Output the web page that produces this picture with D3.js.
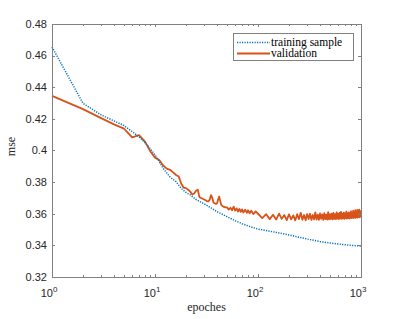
<!DOCTYPE html>
<meta charset="utf-8">
<title>mse vs epoches</title>
<script src="https://d3js.org/d3.v7.min.js"></script>
<style>
  body { margin: 0; background: #fff; }
  svg { font-family: "Liberation Sans", Arial, sans-serif; }
</style>
<div id="chart"></div>
<script>
// training sample curve (smooth)
var trainEpochs = [1, 2, 3, 4, 5, 6, 7, 8, 9, 10, 11, 12, 13, 14, 16, 18, 20, 22, 25, 30, 35, 40, 50, 60, 70, 85, 100, 120, 150, 200, 300, 400, 500, 600, 700, 800, 900, 1000];
var trainMse = [0.4655, 0.4298, 0.4225, 0.4187, 0.4158, 0.4120, 0.4087, 0.4050, 0.4012, 0.3972, 0.3930, 0.3887, 0.3858, 0.3832, 0.3803, 0.3760, 0.3735, 0.3719, 0.3690, 0.3663, 0.3637, 0.3613, 0.3582, 0.3556, 0.3537, 0.3517, 0.3503, 0.3494, 0.3482, 0.3466, 0.3440, 0.3424, 0.3415, 0.3409, 0.3404, 0.3400, 0.3398, 0.3396];

// validation curve (noisy)
var valEpochs = [1, 2, 3, 4, 5, 6, 7, 8, 9, 10, 11, 12, 13, 14, 15, 16, 17, 18, 19, 20, 21, 22, 23, 24, 25, 26, 27, 28, 29, 30, 31, 32, 33, 34, 35, 36, 37, 38, 39, 40, 41, 42, 43, 44, 45, 46, 48, 50, 52, 54, 56, 58, 60, 62, 64, 66, 68, 70, 72, 75, 78, 80, 83, 86, 90, 95,
  100, 110, 120, 130, 140, 150, 160, 170, 180, 190, 200, 210, 220, 230, 240, 250, 260, 270, 280, 290, 300, 310, 320, 330, 340, 350, 360, 370, 380, 390, 400, 410, 420, 430, 440, 450, 460, 470, 480, 490, 500, 510, 520, 530, 540, 550, 560, 570, 580, 590, 600, 610, 620, 630, 640, 650, 660, 670, 680, 690, 700, 710, 720, 730, 740, 750, 760, 770, 780, 790, 800, 810, 820, 830, 840, 850, 860, 870, 880, 890, 900, 910, 920, 930, 940, 950, 960, 970, 980, 990, 1000];
var valMse = [0.4345, 0.4262, 0.4205, 0.4165, 0.4138, 0.4083, 0.4097, 0.4056, 0.3995, 0.3955, 0.3940, 0.3905, 0.3885, 0.3878, 0.3862, 0.3845, 0.3835, 0.3790, 0.3765, 0.3762, 0.3752, 0.3740, 0.3722, 0.3728, 0.3745, 0.3752, 0.3705, 0.3700, 0.3695, 0.3690, 0.3685, 0.3680, 0.3678, 0.3690, 0.3718, 0.3700, 0.3670, 0.3666, 0.3662, 0.3665, 0.3690, 0.3708, 0.3680, 0.3655, 0.3650, 0.3645, 0.3640, 0.3640, 0.3626, 0.3638, 0.3622, 0.3645, 0.3620, 0.3634, 0.3614, 0.3630, 0.3612, 0.3628, 0.3608, 0.3625, 0.3606, 0.3622, 0.3603, 0.3620, 0.3598, 0.3615,
  0.3600, 0.3572, 0.3597, 0.3566, 0.3594, 0.3563, 0.3601, 0.3568, 0.3592, 0.3560, 0.3596, 0.3565, 0.3590, 0.3558, 0.3597, 0.3566, 0.3606, 0.3562, 0.3592, 0.3559, 0.3598, 0.3567, 0.3600, 0.3561, 0.3592, 0.3565, 0.3608, 0.3563, 0.3595, 0.3561, 0.3602, 0.3568, 0.3596, 0.3562, 0.3604, 0.3566, 0.3594, 0.3563, 0.3610, 0.3565, 0.3598, 0.3567, 0.3601, 0.3564, 0.3606, 0.3568, 0.3598, 0.3566, 0.3608, 0.3569, 0.3600, 0.3566, 0.3605, 0.3570, 0.3612, 0.3568, 0.3600, 0.3571, 0.3607, 0.3567, 0.3602, 0.3572, 0.3614, 0.3569, 0.3603, 0.3573, 0.3609, 0.3570, 0.3604, 0.3574, 0.3616, 0.3572, 0.3606, 0.3575, 0.3620, 0.3573, 0.3607, 0.3577, 0.3622, 0.3574, 0.3610, 0.3578, 0.3624, 0.3576, 0.3612, 0.3580, 0.3626, 0.3577, 0.3618, 0.3582, 0.3600];

var yTicks = [0.32, 0.34, 0.36, 0.38, 0.4, 0.42, 0.44, 0.46, 0.48];
var yTickLabels = ["0.32", "0.34", "0.36", "0.38", "0.4", "0.42", "0.44", "0.46", "0.48"];
var xMajor = [1, 10, 100, 1000];
var xExponents = ["0", "1", "2", "3"];
var seriesNames = ["training sample", "validation"];

var W = 399, H = 319;
var margin = {top: 24, right: 38, bottom: 42, left: 52},
    width = W - margin.left - margin.right,
    height = H - margin.top - margin.bottom;

var axisColor = "#808080", textColor = "#262626";
var blue = "#0072BD", orange = "#D95319";

var svg = d3.select("#chart").append("svg")
    .attr("width", W).attr("height", H);

var g = svg.append("g")
    .attr("transform", "translate(" + margin.left + "," + margin.top + ")");

var x = d3.scaleLog().domain([1, 1000]).range([0, width]);
var y = d3.scaleLinear().domain([0.32, 0.48]).range([height, 0]);

// minor ticks for the log axis
var xMinor = [];
[1, 10, 100].forEach(function(d) {
  for (var k = 2; k <= 9; k++) xMinor.push(d * k);
});

// lines
var line = d3.line()
  .x(function(d) { return x(d[0]); })
  .y(function(d) { return y(d[1]); });

var trainData = trainEpochs.map(function(e, i) { return [e, trainMse[i]]; });
var valData = valEpochs.map(function(e, i) { return [e, valMse[i]]; });

g.append("path")
  .datum(valData)
  .attr("d", line)
  .attr("fill", "none")
  .attr("stroke", orange)
  .attr("stroke-width", 1.8)
  .attr("stroke-linejoin", "round");

g.append("path")
  .datum(trainData)
  .attr("d", line)
  .attr("fill", "none")
  .attr("stroke", blue)
  .attr("stroke-width", 1.5)
  .attr("stroke-dasharray", "1.2,1.3");

// box
g.append("rect")
  .attr("x", 0).attr("y", 0)
  .attr("width", width).attr("height", height)
  .attr("fill", "none")
  .attr("stroke", axisColor)
  .attr("stroke-width", 1)
  .attr("shape-rendering", "crispEdges");

// y ticks, both sides, pointing in
yTicks.forEach(function(t, i) {
  var yy = Math.round(y(t)) + 0.5;
  g.append("line").attr("x1", 0).attr("x2", 3).attr("y1", yy).attr("y2", yy)
    .attr("stroke", axisColor);
  g.append("line").attr("x1", width - 3).attr("x2", width).attr("y1", yy).attr("y2", yy)
    .attr("stroke", axisColor);
  g.append("text")
    .attr("x", -5)
    .attr("y", y(t))
    .attr("dy", "0.35em")
    .attr("text-anchor", "end")
    .attr("font-size", "11px")
    .attr("fill", textColor)
    .text(yTickLabels[i]);
});

// x ticks, top and bottom
xMajor.forEach(function(t, i) {
  var xx = Math.round(x(t)) + 0.5;
  g.append("line").attr("x1", xx).attr("x2", xx).attr("y1", height).attr("y2", height - 3)
    .attr("stroke", axisColor);
  g.append("line").attr("x1", xx).attr("x2", xx).attr("y1", 0).attr("y2", 3)
    .attr("stroke", axisColor);
  var lab = g.append("text")
    .attr("x", x(t) - 3)
    .attr("y", height + 20)
    .attr("text-anchor", "middle")
    .attr("font-size", "11px")
    .attr("fill", textColor);
  lab.append("tspan").text("10");
  lab.append("tspan").attr("dy", "-5").attr("font-size", "8px").text(xExponents[i]);
});

xMinor.forEach(function(t) {
  var xx = Math.round(x(t)) + 0.5;
  g.append("line").attr("x1", xx).attr("x2", xx).attr("y1", height).attr("y2", height - 2)
    .attr("stroke", axisColor);
  g.append("line").attr("x1", xx).attr("x2", xx).attr("y1", 0).attr("y2", 2)
    .attr("stroke", axisColor);
});

// axis labels
svg.append("text")
  .attr("x", margin.left + width / 2)
  .attr("y", 311)
  .attr("text-anchor", "middle")
  .attr("font-family", "'Liberation Serif', 'Times New Roman', serif")
  .attr("font-size", "12px")
  .attr("fill", textColor)
  .text("epoches");

svg.append("text")
  .attr("transform", "translate(15," + (margin.top + height / 2 - 4) + ") rotate(-90)")
  .attr("text-anchor", "middle")
  .attr("font-family", "'Liberation Serif', 'Times New Roman', serif")
  .attr("font-size", "12px")
  .attr("fill", textColor)
  .text("mse");

// legend
var leg = svg.append("g").attr("transform", "translate(233,33)");
leg.append("rect")
  .attr("x", 0.5).attr("y", 0.5)
  .attr("width", 120).attr("height", 27)
  .attr("fill", "#fff")
  .attr("stroke", axisColor);

[blue, orange].forEach(function(c, i) {
  var ly = 9.5 + i * 11;
  leg.append("line")
    .attr("x1", 4).attr("x2", 37)
    .attr("y1", ly).attr("y2", ly)
    .attr("stroke", c)
    .attr("stroke-width", i === 0 ? 1.5 : 1.8)
    .attr("stroke-dasharray", i === 0 ? "1.2,1.3" : null);
  leg.append("text")
    .attr("x", 38)
    .attr("y", ly)
    .attr("dy", "0.32em")
    .attr("font-family", "'Liberation Serif', 'Times New Roman', serif")
    .attr("font-size", "11.5px")
    .attr("fill", "#000")
    .text(seriesNames[i]);
});
</script>
